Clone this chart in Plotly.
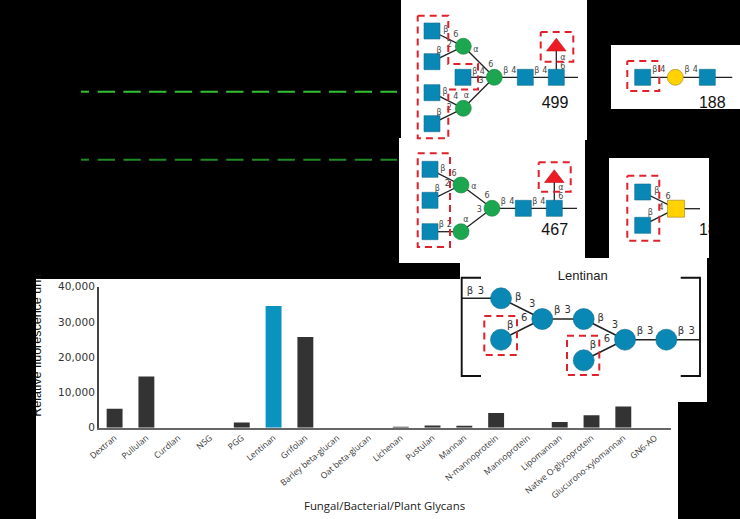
import plotly.graph_objects as go

# ---- bar chart data ----
categories = ["Dextran", "Pullulan", "Curdlan", "NSG", "PGG", "Lentinan", "Grifolan",
              "Barley beta-glucan", "Oat beta-glucan", "Lichenan", "Pustulan", "Mannan",
              "N-mannoprotein", "Mannoprotein", "Lipomannan", "Native O-glycoprotein",
              "Glucurono-xylomannan", "GN6-AO"]
values = [5400, 14500, 0, 0, 1500, 34500, 25700, 0, 0, 120, 600, 500, 4200, 0, 1600, 3500, 6000, 0]
highlight = "Lentinan"
y_ticks = [0, 10000, 20000, 30000, 40000]
x_title = "Fungal/Bacterial/Plant Glycans"
y_title = "Relative fluorescence unit"

# ---- illustration geometry, in picture pixels ----
panels = [(401, 0, 587, 140), (399, 138, 585, 263), (611, 45, 740, 109), (609, 158, 709, 258),
          (460, 258, 707, 402), (36, 279, 678, 519)]
covers = [(0, 260, 36, 519), (709, 158, 740, 258), (611, 109, 740, 158)]

segments = [
    [(432, 31), (463.3, 46.3)], [(432, 61.7), (463.3, 46.3)], [(463.3, 46.3), (494.3, 77.3)],
    [(463, 77.3), (494.3, 77.3)], [(432, 92.7), (463.3, 108.3)], [(432, 123.7), (463.3, 108.3)],
    [(463.3, 108.3), (494.3, 77.3)], [(494.3, 77.3), (578, 77.3)], [(556.3, 77.3), (556.3, 46.7)],
    [(430, 169.3), (461, 185)], [(430, 200.3), (461, 185)], [(461, 185), (492, 208.3)],
    [(430, 231.7), (461, 231.7)], [(461, 231.7), (492, 208.3)], [(492, 208.3), (577, 208.3)],
    [(554.3, 208.3), (554.3, 178.3)],
    [(642.7, 77.3), (732.3, 77.3)],
    [(642.7, 192), (676, 208.7)], [(642.7, 225.3), (676, 208.7)], [(676, 208.7), (700, 208.7)],
]
lentinan_segments = [
    [(461.7, 298.3), (501, 298.3)], [(501, 298.3), (542.3, 319)], [(501, 339.7), (542.3, 319)],
    [(542.3, 319), (583.7, 319)], [(583.7, 319), (625, 339.7)], [(583.7, 360.3), (625, 339.7)],
    [(625, 339.7), (700, 339.7)],
]
brackets = [
    [(481, 277.7), (461.7, 277.7), (461.7, 376), (481, 376)],
    [(680.7, 277.7), (700, 277.7), (700, 376), (680.7, 376)],
]
blue_squares = [(432, 31), (432, 61.7), (463, 77.3), (432, 92.7), (432, 123.7), (525.3, 77.3), (556.3, 77.3),
                (430, 169.3), (430, 200.3), (430, 231.7), (523.3, 208.3), (554.3, 208.3),
                (642.7, 77.3), (707.3, 77.3), (642.7, 192), (642.7, 225.3)]
green_circles = [(463.3, 46.3), (494.3, 77.3), (463.3, 108.3), (461, 185), (492, 208.3), (461, 231.7)]
yellow_circles = [(675.3, 77.3)]
yellow_squares = [(676, 208.7)]
red_triangles = [(556.3, 46.7), (554.3, 178.3)]
blue_circles = [(501, 298.3), (501, 339.7), (542.3, 319), (583.7, 319), (583.7, 360.3), (625, 339.7), (666.3, 339.7)]

red_boxes = [
    [(417.7, 15.7), (448.3, 15.7), (448.3, 64), (478, 64), (478, 89.5), (448.3, 89.5), (448.3, 138.3), (417.7, 138.3), (417.7, 15.7)],
    [(540.7, 32), (573.3, 32), (573.3, 61.7), (540.7, 61.7), (540.7, 32)],
    [(417.7, 153.3), (450, 153.3), (450, 247), (417.7, 247), (417.7, 153.3)],
    [(538.7, 162.3), (570.7, 162.3), (570.7, 191.7), (538.7, 191.7), (538.7, 162.3)],
    [(627.3, 61), (659.3, 61), (659.3, 91), (627.3, 91), (627.3, 61)],
    [(627.3, 175.7), (659.3, 175.7), (659.3, 240.7), (627.3, 240.7), (627.3, 175.7)],
    [(484.3, 316), (517, 316), (517, 355), (484.3, 355), (484.3, 316)],
    [(567, 335.7), (599.3, 335.7), (599.3, 375), (567, 375), (567, 335.7)],
]

small_labels = [
    (445.7, 30, "β"), (455.7, 35.3, "6"), (439, 51, "β"), (449.3, 45, "2"), (476, 50, "α"), (490.7, 65, "6"),
    (474.7, 71.7, "β"), (482.3, 71.7, "4"), (481, 81, "3"), (445, 91.7, "β"), (455.7, 97, "4"), (466.3, 96.3, "α"),
    (449.3, 108.3, "2"), (439, 112.7, "β"), (505.7, 71, "β"), (513.7, 71, "4"), (536.7, 71, "β"), (544.7, 71, "4"),
    (563, 57.5, "α"), (562.7, 66.5, "6"),
    (442.7, 169, "β"), (454, 174.3, "6"), (447.3, 184, "2"), (437.3, 189, "β"), (474, 186.7, "α"), (487, 196, "6"),
    (479.3, 210, "3"), (466, 220, "α"), (441.3, 225, "β"), (449.3, 225, "2"), (503.3, 201.7, "β"), (511.7, 201.7, "4"),
    (534.7, 201.7, "β"), (542.7, 201.7, "4"), (561, 188.3, "α"), (560.7, 196.7, "6"),
    (654.7, 70, "β"), (662.7, 70, "4"), (687, 70, "β"), (695.3, 70, "4"),
    (656.7, 191, "β"), (668, 196.7, "6"), (661, 208.3, "4"), (650.3, 212.7, "β"),
]
lentinan_labels = [
    (470, 291, "β"), (481, 291, "3"), (518.3, 297.7, "β"), (532.3, 304.3, "3"), (524.3, 318.3, "6"), (510.3, 325, "β"),
    (557.3, 310.3, "β"), (567.7, 310.3, "3"), (600.7, 318.3, "β"), (615, 325, "3"), (607, 339, "6"), (593, 345.7, "β"),
    (640, 331, "β"), (650.3, 331, "3"), (681, 331, "β"), (691.7, 331, "3"),
]
number_labels = [(555, 104, "499"), (554.7, 230.7, "467"), (712.3, 104, "188"), (712.3, 231, "188")]
dash_bright = [(81, 91.7), (89, 91.7), None, (97.7, 91.7), (397, 91.7)]
dash_dark = [(81, 159.7), (89, 159.7), None, (97.7, 159.7), (397, 159.7)]
W, H = 740, 519
PX = dict(xaxis="x2", yaxis="y2", hoverinfo="skip", showlegend=False)


def xs(pts):
    return [p[0] if p else None for p in pts]


def ys(pts):
    return [p[1] if p else None for p in pts]


fig = go.Figure()
fig.add_bar(x=categories, y=values, width=0.5, hoverinfo="skip", showlegend=False,
            marker=dict(color=["#0A93BE" if c == highlight else "#333333" for c in categories], line_width=0))

for pts, col in ((dash_bright, "#33C233"), (dash_dark, "#1F8A24")):
    fig.add_scatter(x=xs(pts), y=ys(pts), mode="lines", line=dict(color=col, width=2, dash="17.3px,8.4px"), **PX)
for seg in segments:
    fig.add_scatter(x=xs(seg), y=ys(seg), mode="lines", line=dict(color="#222222", width=1.3), **PX)
for seg in lentinan_segments:
    fig.add_scatter(x=xs(seg), y=ys(seg), mode="lines", line=dict(color="#222222", width=1.6), **PX)
for seg in brackets:
    fig.add_scatter(x=xs(seg), y=ys(seg), mode="lines", line=dict(color="#111111", width=1.9), **PX)


def mark(pts, symbol, size, color, edge):
    fig.add_scatter(x=xs(pts), y=ys(pts), mode="markers",
                    marker=dict(symbol=symbol, size=size, color=color, line=dict(color=edge, width=0.6)), **PX)


mark(blue_squares, "square", 16, "#0A88B5", "#0A6C90")
mark(green_circles, "circle", 16, "#1CA64F", "#158040")
mark(yellow_circles, "circle", 16, "#FFD200", "#A08020")
mark(yellow_squares, "square", 17, "#FFD200", "#A08020")
mark(red_triangles, "triangle-up", 17, "#ED1C24", "#C01018")
mark(blue_circles, "circle", 21, "#0A88B5", "#0A6C90")


def labels(items, size, color, family="DejaVu Sans"):
    fig.add_scatter(x=[i[0] for i in items], y=[i[1] for i in items], text=[i[2] for i in items], mode="text",
                    textposition="middle center", textfont=dict(size=size, color=color, family=family), **PX)


labels(small_labels, 8, "#444444")
labels(lentinan_labels, 10, "#333333")
labels(number_labels, 16, "#111111", "Liberation Sans")
labels([(582.7, 276.7, "Lentinan")], 13, "#222222", "Liberation Sans")

for box in red_boxes:
    fig.add_scatter(x=xs(box), y=ys(box), mode="lines", line=dict(color="#E0202A", width=2, dash="7px,5px"), **PX)

# helper axis: its tick label sits under the "above" cover shapes, which crop it like the source
fig.add_scatter(x=[0], y=[347], mode="markers", marker=dict(opacity=0), xaxis="x2", yaxis="y3",
                hoverinfo="skip", showlegend=False)

for x0, y0, x1, y1 in panels:
    fig.add_shape(type="rect", xref="paper", yref="paper", x0=x0 / W, y0=1 - y0 / H, x1=x1 / W, y1=1 - y1 / H,
                  fillcolor="white", line_width=0, layer="below")
for x0, y0, x1, y1 in covers:
    fig.add_shape(type="rect", xref="paper", yref="paper", x0=x0 / W, y0=1 - y0 / H, x1=x1 / W, y1=1 - y1 / H,
                  fillcolor="black", line_width=0, layer="above")

fig.add_annotation(x=384.5, y=505.5, xref="x2", yref="y2", text=x_title, showarrow=False,
                   font=dict(family="Open Sans", size=11.4, color="#222222"))

fig.update_layout(
    width=W, height=H, margin=dict(l=0, r=0, t=0, b=0, pad=0, autoexpand=False), autosize=False,
    paper_bgcolor="black", plot_bgcolor="rgba(0,0,0,0)", hovermode=False, bargap=0.5,
    xaxis=dict(domain=[98.7 / W, 671 / W], range=[-0.5, 17.5], type="category", anchor="y",
               categoryorder="array", categoryarray=categories, automargin=False,
               tickangle=-40, tickfont=dict(family="Open Sans", size=8.5, color="#333333"),
               ticks="", showgrid=False, showline=True, linecolor="#666666", linewidth=2, zeroline=False),
    yaxis=dict(domain=[(H - 427.7) / H, (H - 286.7) / H], range=[0, 40000], anchor="x", automargin=False,
               tickvals=y_ticks, tickformat=",d", tickfont=dict(family="DejaVu Sans", size=10.5, color="#333333"),
               ticks="", showgrid=False, showline=True, linecolor="#444444", linewidth=1.5, zeroline=False),
    xaxis2=dict(domain=[0, 1], range=[0, W], anchor="y2", visible=False, fixedrange=True, automargin=False),
    yaxis2=dict(domain=[0, 1], range=[H, 0], anchor="x2", visible=False, fixedrange=True, automargin=False),
    yaxis3=dict(domain=[0, 1], range=[H, 0], overlaying="y2", anchor="free", position=43.5 / W, side="left",
                tickvals=[347], ticktext=[y_title], tickangle=-90, automargin=False,
                tickfont=dict(family="Liberation Sans", size=12.5, color="#111111"),
                ticks="", showgrid=False, showline=False, zeroline=False),
)
fig.write_html("out.html", config={"displayModeBar": False},
               post_script="document.body.style.margin='0';document.body.style.background='black';")
